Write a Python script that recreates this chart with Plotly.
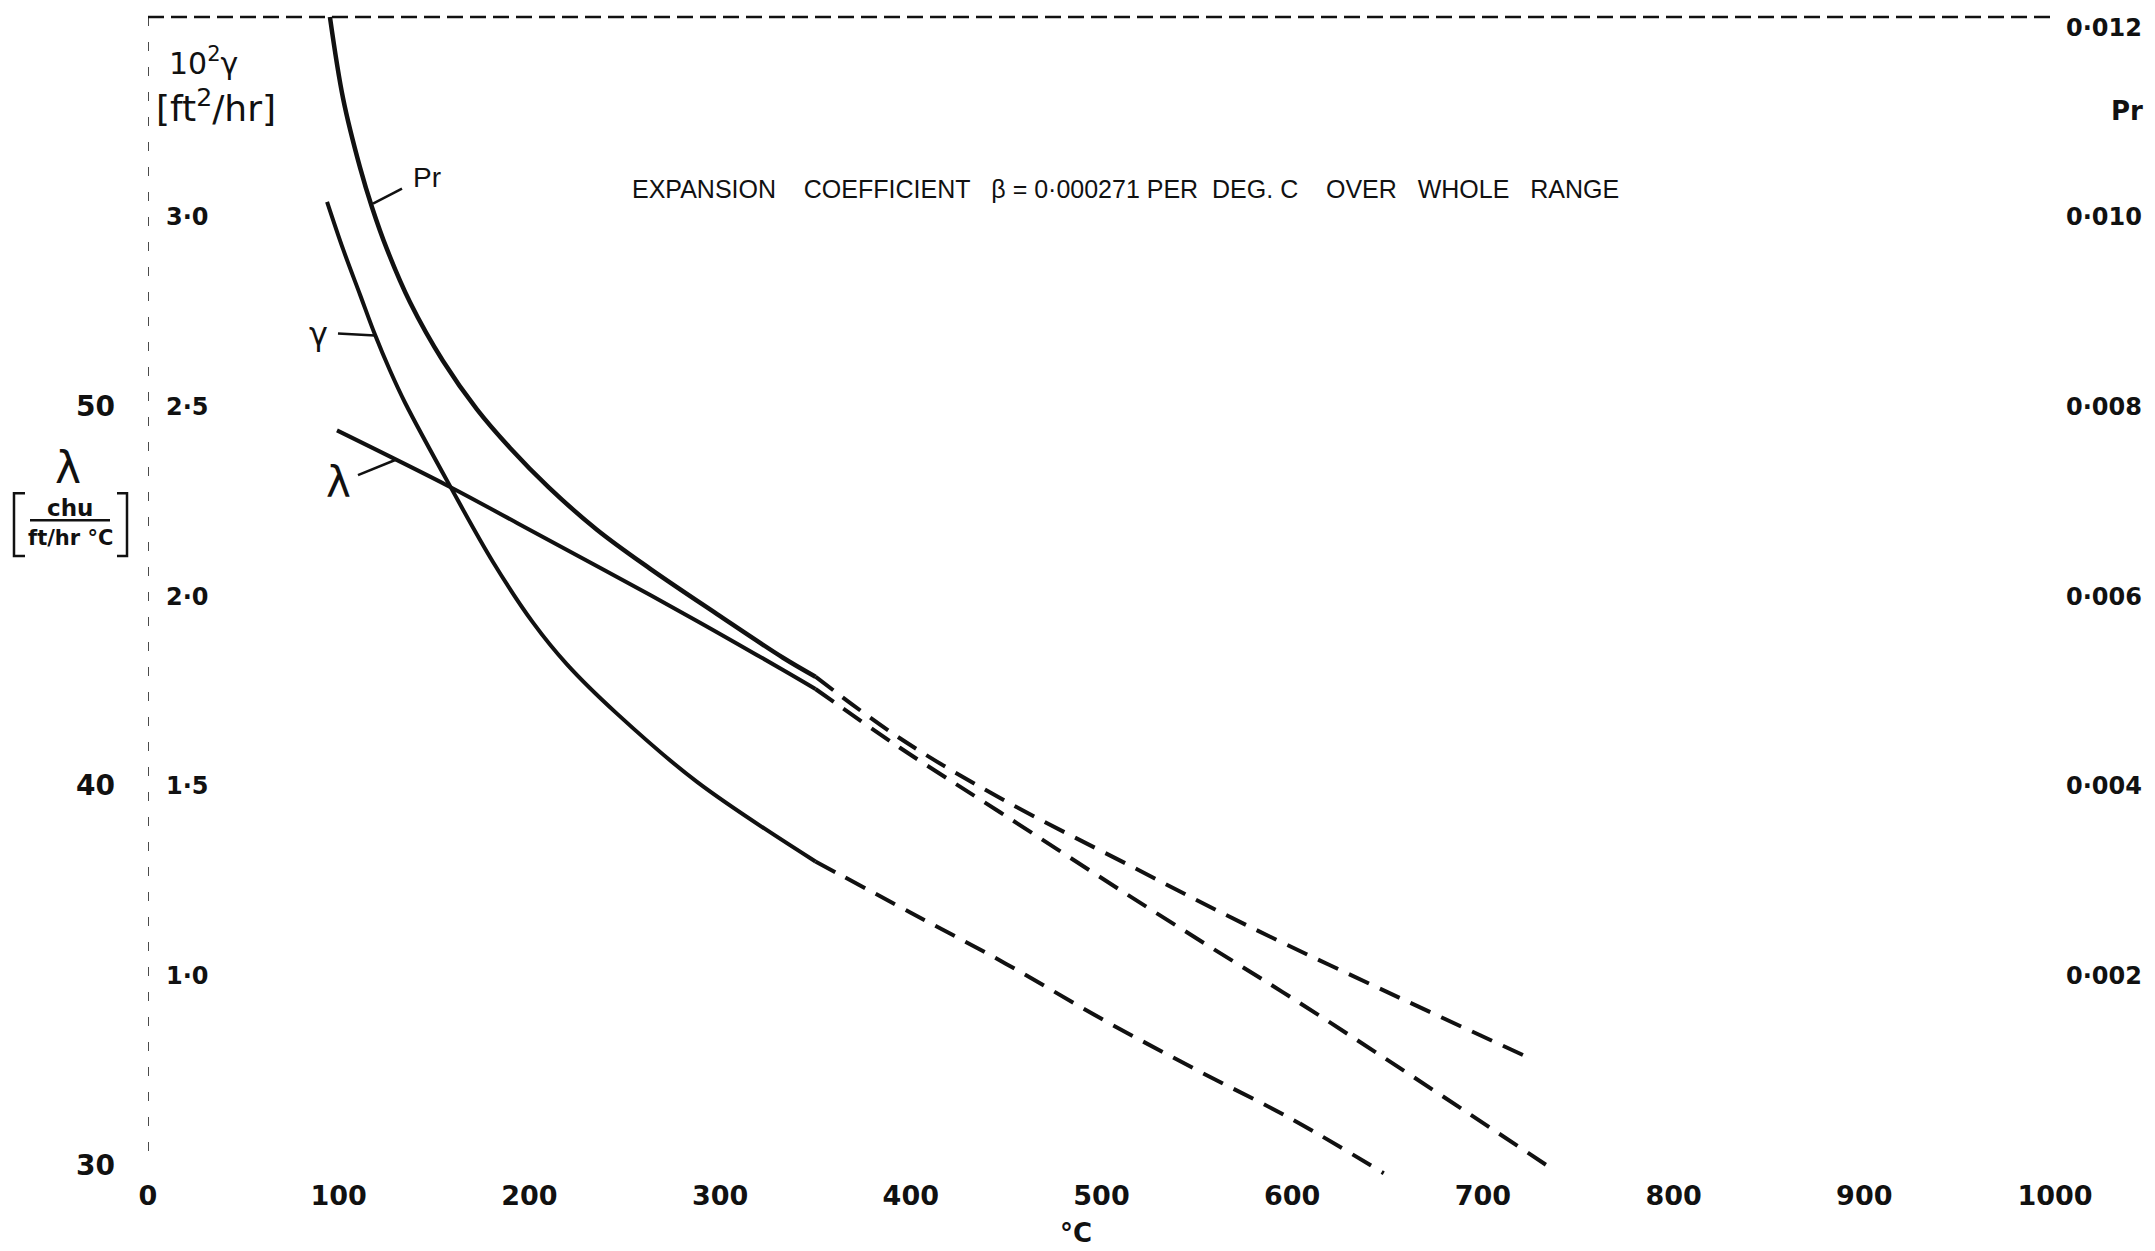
import plotly.graph_objects as go

# ---------------- data ----------------
# Prandtl number (right axis)
pr_solid_T = [95.4, 102.3, 111.2, 117.5, 125.3, 137.4, 154.7, 172.5, 190.0, 210.0, 235.4, 263.2, 298.4, 333.0, 350]
pr_solid_v = [0.01211, 0.01125, 0.01052, 0.01010, 0.00966, 0.00910, 0.00848, 0.00797, 0.00756, 0.00715, 0.00670, 0.00629, 0.00581, 0.00535, 0.00515]
pr_dash_T = [350, 394.3, 446.8, 516.5, 577.9, 656.5, 723]
pr_dash_v = [0.00515, 0.00450, 0.00387, 0.00314, 0.00251, 0.00176, 0.00114]

# 10^2 * kinematic viscosity gamma [ft2/hr] (inner left axis)
g_solid_T = [93.9, 102.3, 111.2, 119.0, 126.9, 134.8, 158.4, 180.9, 201.9, 219.7, 245.9, 287.9, 350]
g_solid_v = [3.04, 2.915, 2.795, 2.69, 2.595, 2.51, 2.29, 2.09, 1.93, 1.82, 1.69, 1.51, 1.30]
g_dash_T = [350, 400, 450, 500, 550, 600, 648]
g_dash_v = [1.30, 1.165, 1.03, 0.885, 0.75, 0.62, 0.478]

# thermal conductivity lambda [chu / ft hr degC] (outer left axis)
l_solid_T = [99.1, 158.4, 193.5, 237.0, 289.5, 333.0, 350]
l_solid_v = [49.37, 47.88, 46.93, 45.75, 44.30, 43.05, 42.55]
l_dash_T = [350, 394.3, 446.8, 511.3, 556.9, 595.2, 656.5, 737]
l_dash_v = [42.55, 41.0, 39.3, 37.2, 35.75, 34.55, 32.55, 29.87]

x_ticks = [0, 100, 200, 300, 400, 500, 600, 700, 800, 900, 1000]
g_ticks = [1.0, 1.5, 2.0, 2.5, 3.0]
g_ticktext = ["1·0", "1·5", "2·0", "2·5", "3·0"]
l_ticks = [30, 40, 50]
pr_ticks = [0.002, 0.004, 0.006, 0.008, 0.010, 0.012]
pr_ticktext = ["0·002", "0·004", "0·006", "0·008", "0·010", "0·012"]

# ---------------- figure ----------------
OFF = 8  # page body margin in the browser
W, H = 2155 - OFF, 1251 - OFF
PL, PT, PW, PH = 148, 14, 1907, 1166          # plot area in reference pixel coords
ML, MT = PL - OFF, PT - OFF
MR = W - ML - PW
MB = H - MT - PH
G_RANGE = [0.46, 3.53]
L_RANGE = [30 + (G_RANGE[0] - 0.5) * 10, 30 + (G_RANGE[1] - 0.5) * 10]
P_RANGE = [(G_RANGE[0] - 0.5) * 0.004, (G_RANGE[1] - 0.5) * 0.004]

LW = 4
DASH = "22px,12px"
BLACK = "#111111"

fig = go.Figure()
fig.add_trace(go.Scatter(x=pr_solid_T, y=pr_solid_v, yaxis="y3", mode="lines",
                         line=dict(color=BLACK, width=LW + 0.5, shape="spline"), name="Pr"))
fig.add_trace(go.Scatter(x=pr_dash_T, y=pr_dash_v, yaxis="y3", mode="lines",
                         line=dict(color=BLACK, width=LW, dash=DASH, shape="spline"), name="Pr (extrap.)"))
fig.add_trace(go.Scatter(x=g_solid_T, y=g_solid_v, yaxis="y", mode="lines",
                         line=dict(color=BLACK, width=LW, shape="spline"), name="γ"))
fig.add_trace(go.Scatter(x=g_dash_T, y=g_dash_v, yaxis="y", mode="lines",
                         line=dict(color=BLACK, width=LW, dash=DASH, shape="spline"), name="γ (extrap.)"))
fig.add_trace(go.Scatter(x=l_solid_T, y=l_solid_v, yaxis="y2", mode="lines",
                         line=dict(color=BLACK, width=LW, shape="spline"), name="λ"))
fig.add_trace(go.Scatter(x=l_dash_T, y=l_dash_v, yaxis="y2", mode="lines",
                         line=dict(color=BLACK, width=LW, dash=DASH, shape="spline"), name="λ (extrap.)"))

fig.update_layout(
    width=W, height=H, autosize=False,
    margin=dict(l=ML, r=MR, t=MT, b=MB, pad=0),
    paper_bgcolor="white", plot_bgcolor="white",
    showlegend=False,
    xaxis=dict(range=[0, 1000], tickvals=x_ticks, ticktext=[str(v) for v in x_ticks],
               showgrid=False, zeroline=False, showline=False, ticks="",
               tickfont=dict(family="DejaVu Sans", size=27, color=BLACK, weight="bold"),
               ticklabelstandoff=-3),
    yaxis=dict(range=G_RANGE, tickvals=g_ticks, ticktext=g_ticktext,
               anchor="free", position=0, side="right", ticklabelstandoff=17,
               showgrid=False, zeroline=False, showline=False, ticks="",
               tickfont=dict(family="DejaVu Sans", size=24, color=BLACK, weight="bold")),
    yaxis2=dict(range=L_RANGE, tickvals=l_ticks, ticktext=[str(v) for v in l_ticks],
                overlaying="y", side="left", anchor="x", ticklabelstandoff=32,
                showgrid=False, zeroline=False, showline=False, ticks="",
                tickfont=dict(family="DejaVu Sans", size=28, color=BLACK, weight="bold")),
    yaxis3=dict(range=P_RANGE, tickvals=pr_ticks, ticktext=pr_ticktext,
                overlaying="y", side="right", anchor="x", ticklabelstandoff=10,
                showgrid=False, zeroline=False, showline=False, ticks="",
                tickfont=dict(family="DejaVu Sans", size=24, color=BLACK, weight="bold")),
)


def px(X):
    return (X - PL) / PW


def py(Y):
    return (PT + PH - Y) / PH


shapes = []
# top dashed frame and faint left edge
shapes.append(dict(type="line", xref="x", yref="paper", x0=0, x1=1000, y0=py(15), y1=py(15),
                   line=dict(color=BLACK, width=2.5, dash="16px,7px")))
shapes.append(dict(type="line", xref="x", yref="paper", x0=0, x1=0, y0=py(15), y1=py(1165),
                   line=dict(color=BLACK, width=1.5, dash="9px,16px")))
# leader lines for curve labels (pixel positions)
for (a, b, c, d) in [(402, 187, 373, 202), (338, 332, 375, 334), (358, 474, 397, 458)]:
    shapes.append(dict(type="line", xref="paper", yref="paper", x0=px(a), y0=py(b), x1=px(c), y1=py(d),
                       line=dict(color=BLACK, width=2.5)))
# fraction bar in lambda unit
shapes.append(dict(type="line", xref="paper", yref="paper", x0=px(30), y0=py(519), x1=px(110), y1=py(519),
                   line=dict(color=BLACK, width=2.5)))


def bracket(pts):
    d = "M " + " L ".join(f"{px(a):.5f},{py(b):.5f}" for a, b in pts)
    return dict(type="path", xref="paper", yref="paper", path=d, line=dict(color=BLACK, width=2.5))


shapes.append(bracket([(25, 492), (14, 492), (14, 555), (25, 555)]))
shapes.append(bracket([(117, 492), (127, 492), (127, 555), (117, 555)]))
fig.update_layout(shapes=shapes)

NB = "\u00a0"
ann = []


def txt(X, Y, s, size, family="DejaVu Sans", weight="normal"):
    ann.append(dict(xref="paper", yref="paper", x=px(X), y=py(Y), text=s, showarrow=False,
                    xanchor="center", yanchor="middle",
                    font=dict(family=family, size=size, color=BLACK, weight=weight)))


title = ("EXPANSION" + NB * 4 + "COEFFICIENT" + NB * 3 + "β = 0·000271" + NB + "PER" + NB * 2 +
         "DEG. C" + NB * 4 + "OVER" + NB * 3 + "WHOLE" + NB * 3 + "RANGE")
txt(1125, 187, title, 25, family="Liberation Sans")
txt(427, 176, "Pr", 28, family="Liberation Sans")
txt(318, 333, "γ", 32)
txt(338, 481, "λ", 42)
txt(68, 466, "λ", 44)
txt(70, 507, "chu", 23, weight="bold")
txt(70, 537, "ft/hr °C", 21, weight="bold")
txt(203, 60, "10<sup>2</sup>γ", 30)
txt(216, 104, "[ft<sup>2</sup>/hr]", 36)
txt(2127, 109, "Pr", 26, weight="bold")
txt(1076, 1233, "°C", 26, weight="bold")
fig.update_layout(annotations=ann)

fig.write_html("out.html")
